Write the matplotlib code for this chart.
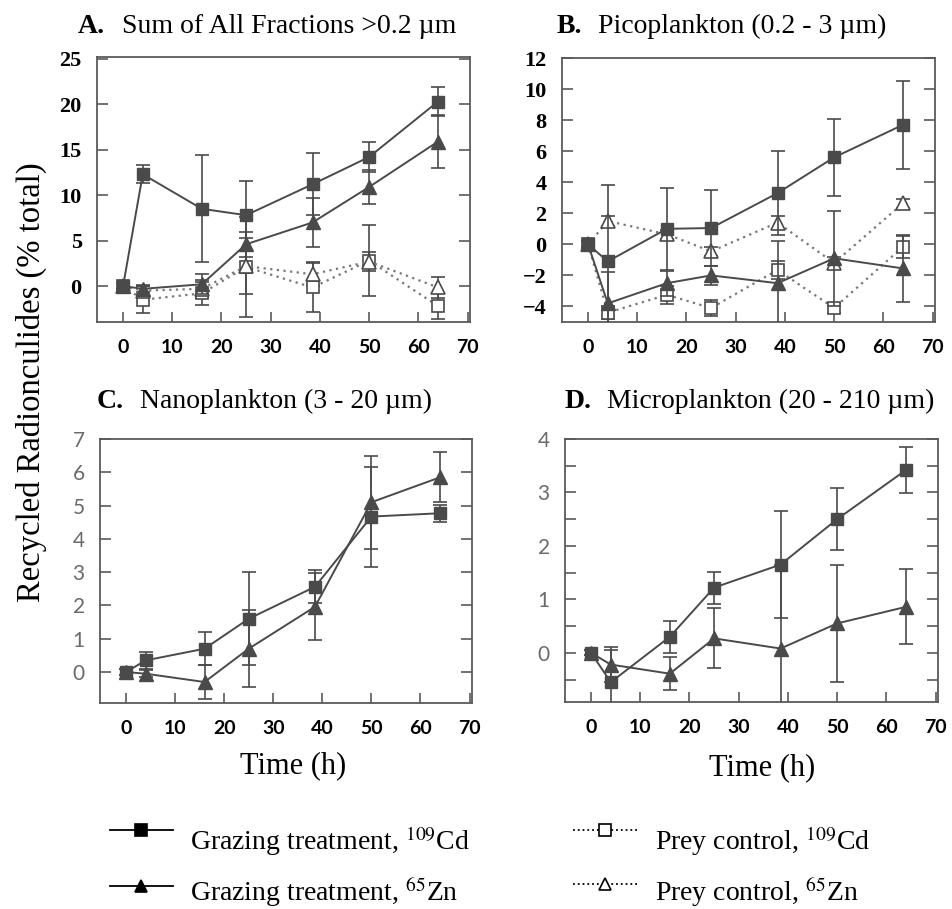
import matplotlib
matplotlib.use("Agg")
import matplotlib.pyplot as plt
from matplotlib.ticker import MultipleLocator

plt.rcParams["mathtext.fontset"] = "stix"

# sampling times (h)
time = [0, 4, 16, 25, 38.5, 50, 64]

# A. Sum of all fractions >0.2 um
a_cd = [0, 12.3, 8.5, 7.8, 11.2, 14.2, 20.3]
a_cd_err = [0.3, 1.0, 5.9, 3.8, 3.4, 1.7, 1.6]
a_zn = [0, -0.3, 0.2, 4.6, 7.0, 10.9, 15.9]
a_zn_err = [0.3, 0.4, 1.1, 1.4, 2.7, 1.9, 2.9]
a_ctl_cd = [0, -1.5, -0.8, 2.1, -0.15, 2.8, -2.2]
a_ctl_cd_err = [0.3, 1.5, 1.3, 5.5, 2.7, 3.9, 1.4]
a_ctl_zn = [0, -0.5, -0.3, 2.2, 1.3, 2.7, -0.15]
a_ctl_zn_err = [0.3, 0.5, 1.0, 3.1, 1.3, 1.0, 1.2]

# B. Picoplankton
b_cd = [0, -1.1, 1.0, 1.05, 3.3, 5.6, 7.7]
b_cd_err = [0.2, 4.95, 2.65, 2.45, 2.7, 2.5, 2.85]
b_zn = [0, -3.8, -2.5, -2.0, -2.5, -0.9, -1.55]
b_zn_err = [0.2, 2.0, 0.8, 0.6, 2.7, 3.05, 2.15]
b_ctl_cd = [0, -4.4, -3.25, -4.1, -1.65, -4.1, -0.15]
b_ctl_cd_err = [0.2, 0.4, 0.6, 0.5, 0.6, 0.3, 0.7]
b_ctl_zn = [0, 1.5, 0.65, -0.45, 1.4, -1.2, 2.65]
b_ctl_zn_err = [0.2, 0.3, 0.3, 0.3, 0.4, 0.4, 0.3]

# C. Nanoplankton
c_cd = [0, 0.35, 0.7, 1.6, 2.56, 4.67, 4.77]
c_cd_err = [0.1, 0.25, 0.5, 1.4, 0.5, 1.5, 0.25]
c_zn = [0, -0.05, -0.3, 0.7, 1.96, 5.1, 5.85]
c_zn_err = [0.1, 0.1, 0.5, 1.15, 1.0, 1.4, 0.75]

# D. Microplankton
d_cd = [0, -0.55, 0.3, 1.22, 1.65, 2.5, 3.42]
d_cd_err = [0.05, 0.6, 0.3, 0.3, 1.0, 0.58, 0.43]
d_zn = [0, -0.22, -0.39, 0.27, 0.08, 0.55, 0.86]
d_zn_err = [0.05, 0.33, 0.31, 0.56, 1.57, 1.1, 0.7]

xticks = [0, 10, 20, 30, 40, 50, 60, 70]

W, H = 953, 909
fig = plt.figure(figsize=(W / 100, H / 100), dpi=100)
SERIF = "Liberation Serif"
INK = "#4a4a4a"
SPINE = "#5a5a5a"


def box(l, t, r, b):
    return [l / W, 1 - b / H, (r - l) / W, (b - t) / H]


def style_axes(ax, ylim, ymajor, yminor, bold_serif):
    ax.set_xlim(-5.3, 70.5)
    ax.set_ylim(*ylim)
    ax.set_xticks(xticks)
    ax.yaxis.set_major_locator(MultipleLocator(ymajor))
    if yminor:
        ax.yaxis.set_minor_locator(MultipleLocator(yminor))
    for s in ax.spines.values():
        s.set_color(SPINE)
        s.set_linewidth(1.3)
    ax.tick_params(axis="x", direction="in", length=7, width=1.2, color=SPINE,
                   top=False, pad=12, labelsize=14)
    ax.tick_params(axis="y", which="both", direction="in", length=8, width=1.2,
                   color=SPINE, left=True, right=True, pad=11)
    for lab in ax.get_xticklabels():
        lab.set_fontfamily("Lato")
        lab.set_fontweight("bold")
        lab.set_color("black")
    for lab in ax.get_yticklabels():
        if bold_serif:
            lab.set_fontfamily(SERIF)
            lab.set_fontweight("bold")
            lab.set_fontsize(16)
            lab.set_color("black")
        else:
            lab.set_fontfamily("Lato")
            lab.set_fontsize(15)
            lab.set_color("#6a6a6a")


def grazing(ax, y_cd, e_cd, y_zn, e_zn):
    ax.errorbar(time, y_zn, yerr=e_zn, color=INK, lw=1.4, elinewidth=1.2,
                capsize=5, capthick=1.2, marker="^", ms=10, mfc=INK, mec=INK,
                zorder=4)
    ax.errorbar(time, y_cd, yerr=e_cd, color=INK, lw=1.4, elinewidth=1.2,
                capsize=5, capthick=1.2, marker="s", ms=8, mfc=INK, mec=INK,
                zorder=5)


def control(ax, y_cd, e_cd, y_zn, e_zn):
    ax.errorbar(time, y_cd, yerr=e_cd, color="#777777", ls=(0, (1, 2)), lw=1.6,
                elinewidth=1.2, ecolor=INK, capsize=5, capthick=1.2, marker="s",
                ms=8, mfc="white", mec=INK, mew=1.2, zorder=3)
    ax.errorbar(time, y_zn, yerr=e_zn, color="#777777", ls=(0, (1, 2)), lw=1.6,
                elinewidth=1.2, ecolor=INK, capsize=5, capthick=1.2, marker="^",
                ms=10, mfc="white", mec=INK, mew=1.2, zorder=3)


axA = fig.add_axes(box(97, 57, 470, 322))
control(axA, a_ctl_cd, a_ctl_cd_err, a_ctl_zn, a_ctl_zn_err)
grazing(axA, a_cd, a_cd_err, a_zn, a_zn_err)
style_axes(axA, (-3.95, 25.2), 5, None, True)

axB = fig.add_axes(box(562, 58, 935, 322))
control(axB, b_ctl_cd, b_ctl_cd_err, b_ctl_zn, b_ctl_zn_err)
grazing(axB, b_cd, b_cd_err, b_zn, b_zn_err)
style_axes(axB, (-5, 12), 2, None, True)

axC = fig.add_axes(box(100, 439, 472, 703))
grazing(axC, c_cd, c_cd_err, c_zn, c_zn_err)
style_axes(axC, (-0.93, 7.0), 1, None, False)

axD = fig.add_axes(box(565, 439, 938, 702))
grazing(axD, d_cd, d_cd_err, d_zn, d_zn_err)
style_axes(axD, (-0.92, 4.0), 1, 0.5, False)


def title(x_letter, x_text, y, letter, text):
    fig.text(x_letter / W, 1 - y / H, letter, family=SERIF, weight="bold",
             size=20, va="baseline", ha="left")
    fig.text(x_text / W, 1 - y / H, text, family=SERIF, size=20,
             va="baseline", ha="left")


title(78, 122, 33, "A.", "Sum of All Fractions >0.2 \u00b5m")
title(557, 598, 33, "B.", "Picoplankton (0.2 - 3 \u00b5m)")
title(97, 140, 408, "C.", "Nanoplankton (3 - 20 \u00b5m)")
title(565, 607, 408, "D.", "Microplankton (20 - 210 \u00b5m)")

fig.text(31 / W, 1 - 382 / H, "Recycled Radionculides (% total)", family=SERIF,
         size=23.5, rotation=90, ha="center", va="center")
fig.text(293 / W, 1 - 773 / H, "Time (h)", family=SERIF, size=22,
         ha="center", va="baseline")
fig.text(762 / W, 1 - 775 / H, "Time (h)", family=SERIF, size=22,
         ha="center", va="baseline")

# legend keys and labels
lax = fig.add_axes([0, 0, 1, 1], facecolor="none")
lax.set_xlim(0, W)
lax.set_ylim(H, 0)
lax.axis("off")
keys = [
    (110, 173, 830, "-", "s", "black", "black",
     "Grazing treatment, $^{109}$Cd", 190, 850),
    (110, 173, 886, "-", "^", "black", "black",
     "Grazing treatment, $^{65}$Zn", 190, 901),
    (573, 637, 830, ":", "s", "white", "black",
     "Prey control, $^{109}$Cd", 655, 850),
    (573, 637, 884, ":", "^", "white", "black",
     "Prey control, $^{65}$Zn", 655, 901),
]
for x0, x1, yk, ls, mk, fc, ec, label, xt, yt in keys:
    lax.plot([x0, x1], [yk, yk], ls=ls, color="black", lw=1.3)
    lax.plot([(x0 + x1) / 2], [yk], marker=mk, ms=8 if mk == "s" else 9,
             mfc=fc, mec=ec, mew=1.2, ls="none")
    lax.text(xt, yt, label, family=SERIF, size=20, va="baseline", ha="left")

fig.savefig("out.png", dpi=100)
